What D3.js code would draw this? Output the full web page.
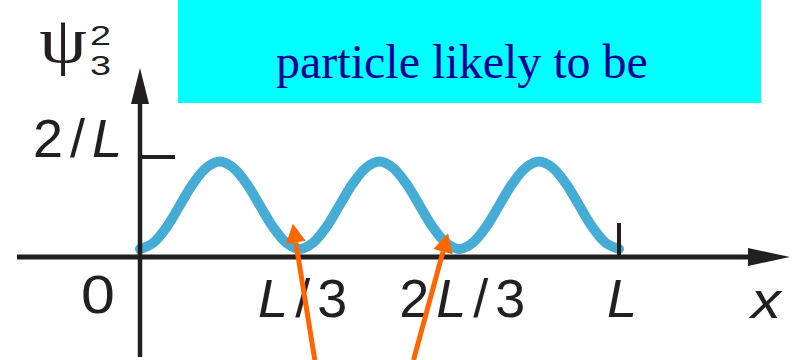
<!DOCTYPE html>
<html>
<head>
<meta charset="utf-8">
<script src="https://cdn.jsdelivr.net/npm/d3@7"></script>
<style>
  body { margin: 0; background: #fff; }
  svg { display: block; }
  .lbl { font-family: "Liberation Sans", Arial, sans-serif; fill: #231f20; }
</style>
</head>
<body>
<svg width="792" height="360"></svg>
<script>
const svg = d3.select('svg');

// probability density psi_3^2 (x in units of L, value in units of 2/L)
const xPos = d3.range(37).map(k => k / 36);
const psiSq = [0, 0.07, 0.25, 0.5, 0.75, 0.93, 1, 0.93, 0.75, 0.5, 0.25, 0.07,
  0, 0.07, 0.25, 0.5, 0.75, 0.93, 1, 0.93, 0.75, 0.5, 0.25, 0.07,
  0, 0.07, 0.25, 0.5, 0.75, 0.93, 1, 0.93, 0.75, 0.5, 0.25, 0.07, 0];

const xTickValues = [1/3, 2/3, 1];
const xTickLabels = [['L', '/3'], ['2', 'L', '/3'], ['L']];
const yTickValues = [1];
const yTickLabels = [['2/', 'L']];

// arrows pointing at the nodes [from x, from y, to x, to y]
const arrowStartX = [0.365, 0.571];
const arrowStartY = [-1.27, -1.27];
const arrowEndX = [0.319, 0.643];
const arrowEndY = [0.29, 0.18];

const boxText = 'particle likely to be';

const xScale = d3.scaleLinear().domain([0, 1]).range([140, 619]);
const yScale = d3.scaleLinear().domain([0, 1]).range([249, 161.5]);
const axisY = 257;
const ink = '#231f20';
const spacing = 7;

// caption box
svg.append('rect')
    .attr('x', 178).attr('y', 0)
    .attr('width', 583).attr('height', 103)
    .attr('fill', '#00ffff');
svg.append('text')
    .attr('x', 462).attr('y', 78)
    .attr('text-anchor', 'middle')
    .attr('font-family', '"Liberation Serif", "Times New Roman", serif')
    .attr('font-size', 48)
    .attr('fill', '#000099')
    .text(boxText);

// curve
const line = d3.line()
    .x((d, i) => xScale(xPos[i]))
    .y(d => yScale(d))
    .curve(d3.curveCatmullRom);
svg.append('path')
    .datum(psiSq)
    .attr('d', line)
    .attr('fill', 'none')
    .attr('stroke', '#45acd6')
    .attr('stroke-width', 10)
    .attr('stroke-linecap', 'round');

// axes
svg.append('line')
    .attr('x1', 17).attr('x2', 752)
    .attr('y1', axisY).attr('y2', axisY)
    .attr('stroke', ink).attr('stroke-width', 5);
svg.append('path')
    .attr('d', `M790,${axisY} L748,${axisY - 9} L748,${axisY + 9} Z`)
    .attr('fill', ink);

const x0 = xScale(0);
svg.append('line')
    .attr('x1', x0).attr('x2', x0)
    .attr('y1', 100).attr('y2', 357)
    .attr('stroke', ink).attr('stroke-width', 4.5);
svg.append('path')
    .attr('d', `M${x0},68 L${x0 - 9},104 L${x0 + 9},104 Z`)
    .attr('fill', ink);

// tick marks
svg.append('line')
    .attr('x1', xScale(1)).attr('x2', xScale(1))
    .attr('y1', 223).attr('y2', axisY)
    .attr('stroke', ink).attr('stroke-width', 4);
yTickValues.forEach(v => {
  const y = yScale(v) - 4.5;
  svg.append('line')
      .attr('x1', x0).attr('x2', 175)
      .attr('y1', y).attr('y2', y)
      .attr('stroke', ink).attr('stroke-width', 4);
});

// label with L in italics; sx widens single glyphs
const label = (x, y, anchor, size, parts, sx = 1, ls = 0) => {
  const t = svg.append('text')
      .attr('class', 'lbl')
      .attr('transform', `translate(${x},${y}) scale(${sx},1)`)
      .attr('text-anchor', anchor)
      .attr('font-size', size)
      .attr('letter-spacing', ls);
  parts.forEach(p => {
    t.append('tspan')
        .attr('font-style', p === 'L' || p === 'x' ? 'italic' : 'normal')
        .text(p);
  });
  return t;
};

xTickValues.forEach((v, i) => {
  const ls = xTickLabels[i].join('').length > 1 ? spacing : 0;
  label(xScale(v) + 3 + ls / 2, 317, 'middle', 54, xTickLabels[i], 1, ls);
});
label(115, 313, 'end', 53, ['0'], 1.15);
yTickValues.forEach((v, i) => {
  label(122 + spacing, yScale(v) - 4.5, 'end', 54, yTickLabels[i], 1, spacing);
});
label(766, 318, 'middle', 50, ['x'], 1.2);

// y axis title psi_3^2
svg.append('text')
    .attr('transform', 'translate(63,62) scale(1.15,1)')
    .attr('text-anchor', 'middle')
    .attr('font-family', '"Liberation Serif", "Times New Roman", serif')
    .attr('font-size', 66)
    .attr('fill', ink)
    .text('\u03c8');
label(90, 45, 'start', 28, ['2'], 1.35);
label(90, 75, 'start', 28, ['3'], 1.35);

// orange arrows
const arrowY = d3.scaleLinear().domain([0, 1]).range([249, 161.5]);
arrowStartX.forEach((sx, i) => {
  const x1 = xScale(sx), y1 = arrowY(arrowStartY[i]);
  const x2 = xScale(arrowEndX[i]), y2 = arrowY(arrowEndY[i]);
  const ang = Math.atan2(y2 - y1, x2 - x1);
  const headLen = 19, headW = 10;
  const bx = x2 - headLen * Math.cos(ang), by = y2 - headLen * Math.sin(ang);
  const px = -Math.sin(ang) * headW, py = Math.cos(ang) * headW;
  svg.append('line')
      .attr('x1', x1).attr('y1', y1)
      .attr('x2', bx).attr('y2', by)
      .attr('stroke', '#ff6600').attr('stroke-width', 5);
  svg.append('path')
      .attr('d', `M${x2},${y2} L${bx + px},${by + py} L${bx - px},${by - py} Z`)
      .attr('fill', '#ff6600');
});
</script>
</body>
</html>
